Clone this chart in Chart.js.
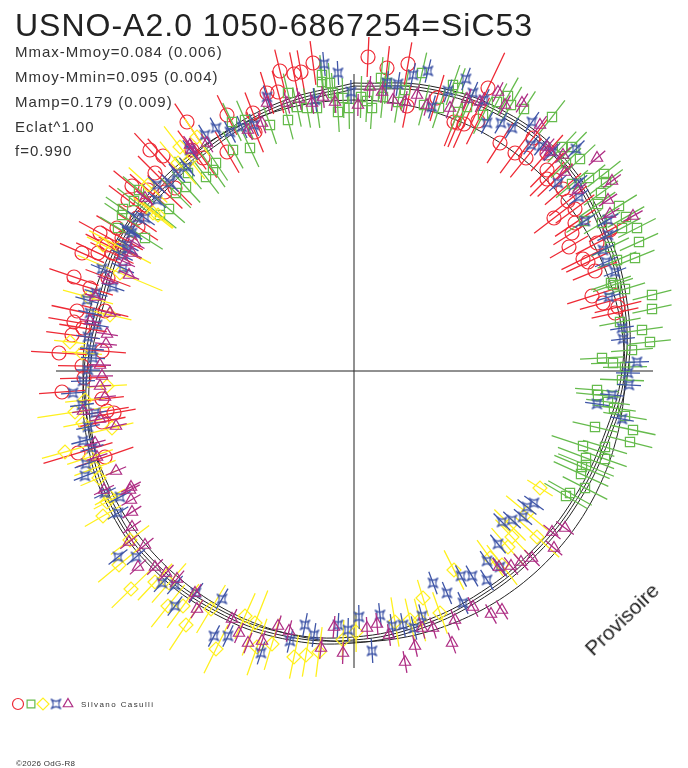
<!DOCTYPE html>
<html>
<head>
<meta charset="utf-8">
<title>USNO-A2.0 1050-6867254=SiC53</title>
<script src="https://cdn.jsdelivr.net/npm/chart.js@4"></script>
<style>
  html, body { margin: 0; padding: 0; background: #fff; }
  #wrap { position: relative; width: 688px; height: 768px; overflow: hidden; font-family: "Liberation Sans", Arial, sans-serif; }
  canvas { position: absolute; left: 0; top: 0; }
  .txt { position: absolute; white-space: nowrap; line-height: 1; }
  #title { left: 15px; top: 9px; font-size: 32px; letter-spacing: 1px; color: #222; }
  .note { left: 15px; font-size: 15px; letter-spacing: 1px; color: #333; }
  #stamp { left: 588px; top: 641px; font-size: 21px; color: #222; transform: rotate(-44deg); transform-origin: 0 50%; }
  #author { left: 81px; top: 701px; font-size: 8px; letter-spacing: 1.4px; color: #333; }
  #copy { left: 16px; top: 760px; font-size: 8px; letter-spacing: 0.3px; color: #333; }
</style>
</head>
<body>
<div id="wrap">
  <canvas id="chart" width="688" height="768"></canvas>
  <div class="txt" id="title">USNO-A2.0 1050-6867254=SiC53</div>
  <div class="txt note" style="top:44px">Mmax-Mmoy=0.084 (0.006)</div>
  <div class="txt note" style="top:69px">Mmoy-Mmin=0.095 (0.004)</div>
  <div class="txt note" style="top:94px">Mamp=0.179 (0.009)</div>
  <div class="txt note" style="top:119px">Eclat^1.00</div>
  <div class="txt note" style="top:143px">f=0.990</div>
  <div class="txt" id="stamp">Provisoire</div>
  <div class="txt" id="author">Silvano Casulli</div>
  <div class="txt" id="copy">©2026 OdG-R8</div>
</div>
<script>
const redX = [14,54,33,53,134,146,161,172,100,104,110,124,179,193,193,193,201,209,214,221,200,221,83,256,218,215,243,229,234,241,238,249,264,261,
  -74,-60,-53,-41,-87,-76,-167,-204,-191,-127,-127,-101,-99,-199,-222,-179,-189,-206,-226,-209,-162,-151,-217,-216,-254,-232,-247,-256,-272,-242,-237,-234,-280,-264,-246,-277,-280,-282,-271,-249,-295,-252,-272,-270,-292,-252,-247,-240,-252,-276,-249];
const redY = [314,307,303,265,283,228,218,213,249,248,247,250,233,218,201,192,191,182,170,162,153,148,273,141,138,124,128,112,109,100,75,68,64,58,
  300,297,299,308,278,279,249,221,215,256,219,258,239,198,185,183,179,181,171,166,221,213,153,144,138,133,126,118,118,118,143,123,94,83,93,60,49,36,43,60,18,20,5,-7,-21,-28,-40,-42,-51,-82,-86];
const redErr = [20,22,22,22,39,24,25,25,26,26,26,26,24,24,24,24,24,24,24,24,25,24,24,24,22,22,24,24,24,24,26,24,24,24,
  22,22,22,22,22,22,22,23,23,22,24,22,22,24,24,24,24,24,24,24,24,24,24,24,24,24,24,24,24,24,24,24,26,24,24,26,26,26,24,24,28,24,24,24,23,22,22,22,24,36,30];

const greenX = [27,33,29,7,13,18,-5,51,44,68,70,85,99,104,104,113,129,143,154,157,170,198,208,218,226,212,235,250,252,218,247,244,265,272,283,268,285,248,230,256,263,281,257,271,259,298,298,266,288,296,278,248,259,271,268,243,244,254,260,271,241,279,276,229,251,251,232,228,227,232,231,216,212,
  -66,-66,-32,-32,-24,-84,-57,-47,-37,-16,-11,-21,-122,-109,-104,-121,-138,-141,-148,-168,-178,-185,-194,-215,-220,-231,-232,-236,-209,-166];
const greenY = [293,288,274,274,270,263,263,281,269,298,266,263,286,283,259,264,256,269,275,266,262,254,224,224,212,208,193,197,189,187,178,167,165,154,143,143,129,148,150,124,111,113,88,82,86,76,62,49,41,29,21,13,8,4,-9,-19,-24,-31,-37,-45,-56,-59,-71,-75,-76,-88,-87,-96,-103,-94,-117,-122,-125,
  251,278,296,289,288,246,264,263,263,259,273,278,249,251,223,221,208,201,194,184,178,162,156,181,170,162,156,143,133,198];
const greenErr = [21,21,21,21,21,21,21,21,21,21,21,21,21,21,21,21,21,21,21,21,21,21,21,21,21,21,21,21,21,21,21,21,21,21,21,21,21,21,21,21,21,21,21,21,21,20,20,21,21,21,21,22,22,22,22,22,22,22,22,22,23,23,23,33,23,23,30,30,30,30,25,25,25,
  20,20,20,20,20,20,20,20,20,20,20,20,21,21,21,21,21,21,21,21,21,21,21,21,21,21,21,21,21,21];

const yellowX = [-284,-272,-247,-269,-279,-271,-242,-264,-289,-259,-255,-247,-251,-244,-234,-234,-266,-244,-174,-176,-206,-201,-251,-157,-196,-164,
  -224,-235,-223,-199,-185,-186,-171,-168,-143,-138,-109,-99,-82,-97,-60,-48,-35,-11,2,41,56,66,69,86,100,136,148,154,158,183,186,173,156];
const yellowY = [29,18,-15,-29,-41,-52,-57,-86,-81,-97,-107,-131,-145,-126,98,124,74,56,224,208,186,158,126,234,156,211,
  -169,-194,-218,-211,-212,-235,-235,-254,-238,-278,-245,-252,-273,-276,-286,-284,-281,-269,-261,-251,-249,-249,-227,-242,-199,-187,-194,-176,-166,-166,-117,-142,-154];
const yellowErr = [16,20,20,20,38,20,22,24,24,22,20,15,21,17,46,35,26,22,26,28,26,25,18,22,20,24,
  24,27,27,25,26,27,27,30,28,27,25,35,27,30,22,22,25,20,20,25,22,22,19,22,22,22,25,25,24,30,15,27,22];

const blueX = [-262,-261,-266,-271,-281,-272,-259,-266,-271,-262,-268,-269,-252,-241,-267,-258,-264,-257,-266,-227,-231,-222,-217,-197,-149,-164,-167,-177,-184,-197,-209,-224,-226,-232,-138,-124,-112,-100,-87,-30,-16,-39,-3,
  33,44,59,74,112,94,119,130,78,133,147,158,178,177,188,198,222,204,224,225,231,254,254,249,252,261,255,268,269,283,274,275,258,243,268,
  -40,-16,-6,5,26,18,38,49,60,68,79,93,109,107,118,133,133,144,148,158,169,173,180,146,-249,-234,-236,-236,-218,-192,-179,-179,-158,-132,-140,-126,-93,-64,-49];
const blueY = [22,13,1,-10,-22,-34,-42,-56,-70,-77,-93,-105,102,84,71,78,58,46,34,122,103,138,153,171,236,221,204,198,188,186,153,141,126,116,243,239,244,246,274,307,298,271,279,
  288,287,296,300,292,280,278,271,264,248,248,243,249,226,225,219,222,188,188,174,150,151,136,121,109,99,74,43,32,9,-2,-14,-24,-33,-48,
  -264,-254,-259,-246,-244,-280,-255,-254,-257,-245,-212,-222,-232,-205,-205,-209,-190,-173,-151,-149,-146,-136,-132,-196,-122,-126,-142,-186,-186,-212,-214,-235,-222,-228,-265,-265,-282,-270,-254];
const blueErr = 12;

const magentaX = [-20,-33,-11,13,23,35,68,79,61,51,98,101,119,137,148,145,157,167,178,200,198,211,
  -250,-224,-223,-222,-222,-225,-209,-216,-199,-188,-177,-159,-157,-122,-115,-106,-92,-76,-65,
  -248,-254,-252,-254,-249,-271,-254,-238,-259,-257,-238,-223,-219,-222,-229,-225,-246,-259,-244,-264,-247,-209,-164,-147,-162,-106,-92,-87,-67,-55,-42,-31,-19,4,16,28,39,51,63,73,96,113,126,144,151,168,186,193,196,209,243,211,258,224,254,256,279];
const magentaY = [-256,-277,-282,-257,-253,-264,-257,-257,-275,-291,-272,-249,-236,-243,-239,-196,-195,-191,-187,-177,-161,-157,
  -119,-119,-129,-141,-156,-171,-174,-196,-196,-202,-208,-222,-238,-248,-262,-272,-270,-255,-260,
  27,6,-5,-15,-26,-40,-48,-55,-72,-86,-100,-116,128,118,109,96,91,74,58,50,37,173,226,228,221,241,248,268,268,272,268,274,269,266,284,279,271,269,276,266,263,272,269,279,266,268,246,224,219,216,213,199,190,181,171,157,155];
const magentaErr = 11;

// fitted light curve, radius against phase angle (clockwise from the top), 3 curves
const modelAngle = [0,15,30,45,60,75,90,105,120,135,150,165,180,195,210,225,240,255,270,285,300,315,330,345,360];
const modelOuter = [288,295,300,299,290,282,274,264,260,259,261,266,272,277,280,282,281,276,270,265,269,267,271,279,288];
const modelMiddle = [285,292,297,296,287,279,271,261,257,256,258,263,269,274,277,279,278,273,267,262,266,264,268,276,285];
const modelInner = [282,289,294,293,284,276,268,258,254,253,255,260,266,271,274,276,275,270,264,259,263,261,265,273,282];

// constant reference circle and the two axes
const circleRadius = 271;
const axisH = [-298, 299];
const axisV = [-297, 297];

const RED = '#ee2a35';
const GREEN = '#66bb4d';
const YELLOW = '#fff01f';
const BLUE = '#3f55a7';
const MAGENTA = '#ae2d84';
const BLACK = '#222222';

// blue mark: square with hollowed sides
function makeStar(color) {
  const c = document.createElement('canvas');
  c.width = 13;
  c.height = 13;
  const g = c.getContext('2d');
  g.strokeStyle = color;
  g.lineWidth = 1.2;
  g.beginPath();
  g.moveTo(1.5, 1.5);
  g.quadraticCurveTo(6.5, 6, 11.5, 1.5);
  g.quadraticCurveTo(7, 6.5, 11.5, 11.5);
  g.quadraticCurveTo(6.5, 7, 1.5, 11.5);
  g.quadraticCurveTo(6, 6.5, 1.5, 1.5);
  g.stroke();
  return c;
}
const starMark = makeStar(BLUE);

function marks(xs, ys) {
  return xs.map((x, i) => ({ x: x, y: ys[i] }));
}

// error bars run along the radius, one broken line per series
function errorBars(xs, ys, errs) {
  const pts = [];
  xs.forEach((x, i) => {
    const y = ys[i];
    const r = Math.hypot(x, y);
    const e = Array.isArray(errs) ? (errs[i] || 22) : errs;
    pts.push({ x: x * (r - e) / r, y: y * (r - e) / r });
    pts.push({ x: x * (r + e) / r, y: y * (r + e) / r });
    pts.push({ x: null, y: null });
  });
  return pts;
}

function curve(radii) {
  return modelAngle.map((a, i) => {
    const t = a * Math.PI / 180;
    return { x: radii[i] * Math.sin(t), y: radii[i] * Math.cos(t) };
  });
}

function circle(r) {
  const pts = [];
  for (let a = 0; a <= 360; a += 5) {
    const t = a * Math.PI / 180;
    pts.push({ x: r * Math.sin(t), y: r * Math.cos(t) });
  }
  return pts;
}

function lineSet(data, color, order, tension, width) {
  return {
    data: data, showLine: true, borderColor: color, borderWidth: width || 1.3, pointRadius: 0,
    tension: tension || 0, spanGaps: false, order: order, clip: false
  };
}

function markSet(data, color, style, size, order) {
  return {
    data: data, showLine: false, pointStyle: style, pointRadius: size,
    pointBorderColor: color, pointBackgroundColor: 'rgba(0,0,0,0)', pointBorderWidth: 1.2,
    order: order, clip: false
  };
}

const datasets = [
  lineSet([{ x: axisH[0], y: 0 }, { x: axisH[1], y: 0 }], BLACK, 20, 0, 1),
  lineSet([{ x: 0, y: axisV[0] }, { x: 0, y: axisV[1] }], BLACK, 20, 0, 1),
  lineSet(circle(circleRadius), BLACK, 19, 0.4, 1),
  lineSet(curve(modelOuter), BLACK, 19, 0.4, 1),
  lineSet(curve(modelMiddle), BLACK, 19, 0.4, 1),
  lineSet(curve(modelInner), BLACK, 19, 0.4, 1),
  lineSet(errorBars(redX, redY, redErr), RED, 18),
  markSet(marks(redX, redY), RED, 'circle', 7, 17),
  lineSet(errorBars(greenX, greenY, greenErr), GREEN, 16),
  markSet(marks(greenX, greenY), GREEN, 'rect', 6.5, 15),
  lineSet(errorBars(yellowX, yellowY, yellowErr), YELLOW, 14),
  markSet(marks(yellowX, yellowY), YELLOW, 'rectRot', 7, 13),
  lineSet(errorBars(blueX, blueY, blueErr), BLUE, 12),
  markSet(marks(blueX, blueY), BLUE, starMark, 6, 11),
  lineSet(errorBars(magentaX, magentaY, magentaErr), MAGENTA, 10),
  markSet(marks(magentaX, magentaY), MAGENTA, 'triangle', 6.5, 9)
];

// little key at the bottom left
const keyMarks = {
  id: 'keyMarks',
  afterDraw(chart) {
    const ctx = chart.ctx;
    const keys = [[18, RED, 'circle', 5.5], [31, GREEN, 'rect', 5.5], [43, YELLOW, 'rectRot', 6], [56, BLUE, starMark, 6], [68, MAGENTA, 'triangle', 5.5]];
    keys.forEach(k => {
      ctx.save();
      ctx.strokeStyle = k[1];
      ctx.fillStyle = 'rgba(0,0,0,0)';
      ctx.lineWidth = 1.2;
      Chart.helpers.drawPoint(ctx, { pointStyle: k[2], radius: k[3], borderWidth: 1.2, rotation: 0 }, k[0], 704);
      ctx.restore();
    });
  }
};

new Chart(document.getElementById('chart'), {
  type: 'scatter',
  data: { datasets: datasets },
  plugins: [keyMarks],
  options: {
    responsive: false,
    animation: false,
    layout: { padding: 0, autoPadding: false },
    plugins: { legend: { display: false }, title: { display: false }, tooltip: { enabled: false } },
    scales: {
      // 1 unit = 1 pixel, axes crossing at (354, 371)
      x: { type: 'linear', display: false, min: -354, max: 334 },
      y: { type: 'linear', display: false, min: -397, max: 371 }
    }
  }
});
</script>
</body>
</html>
